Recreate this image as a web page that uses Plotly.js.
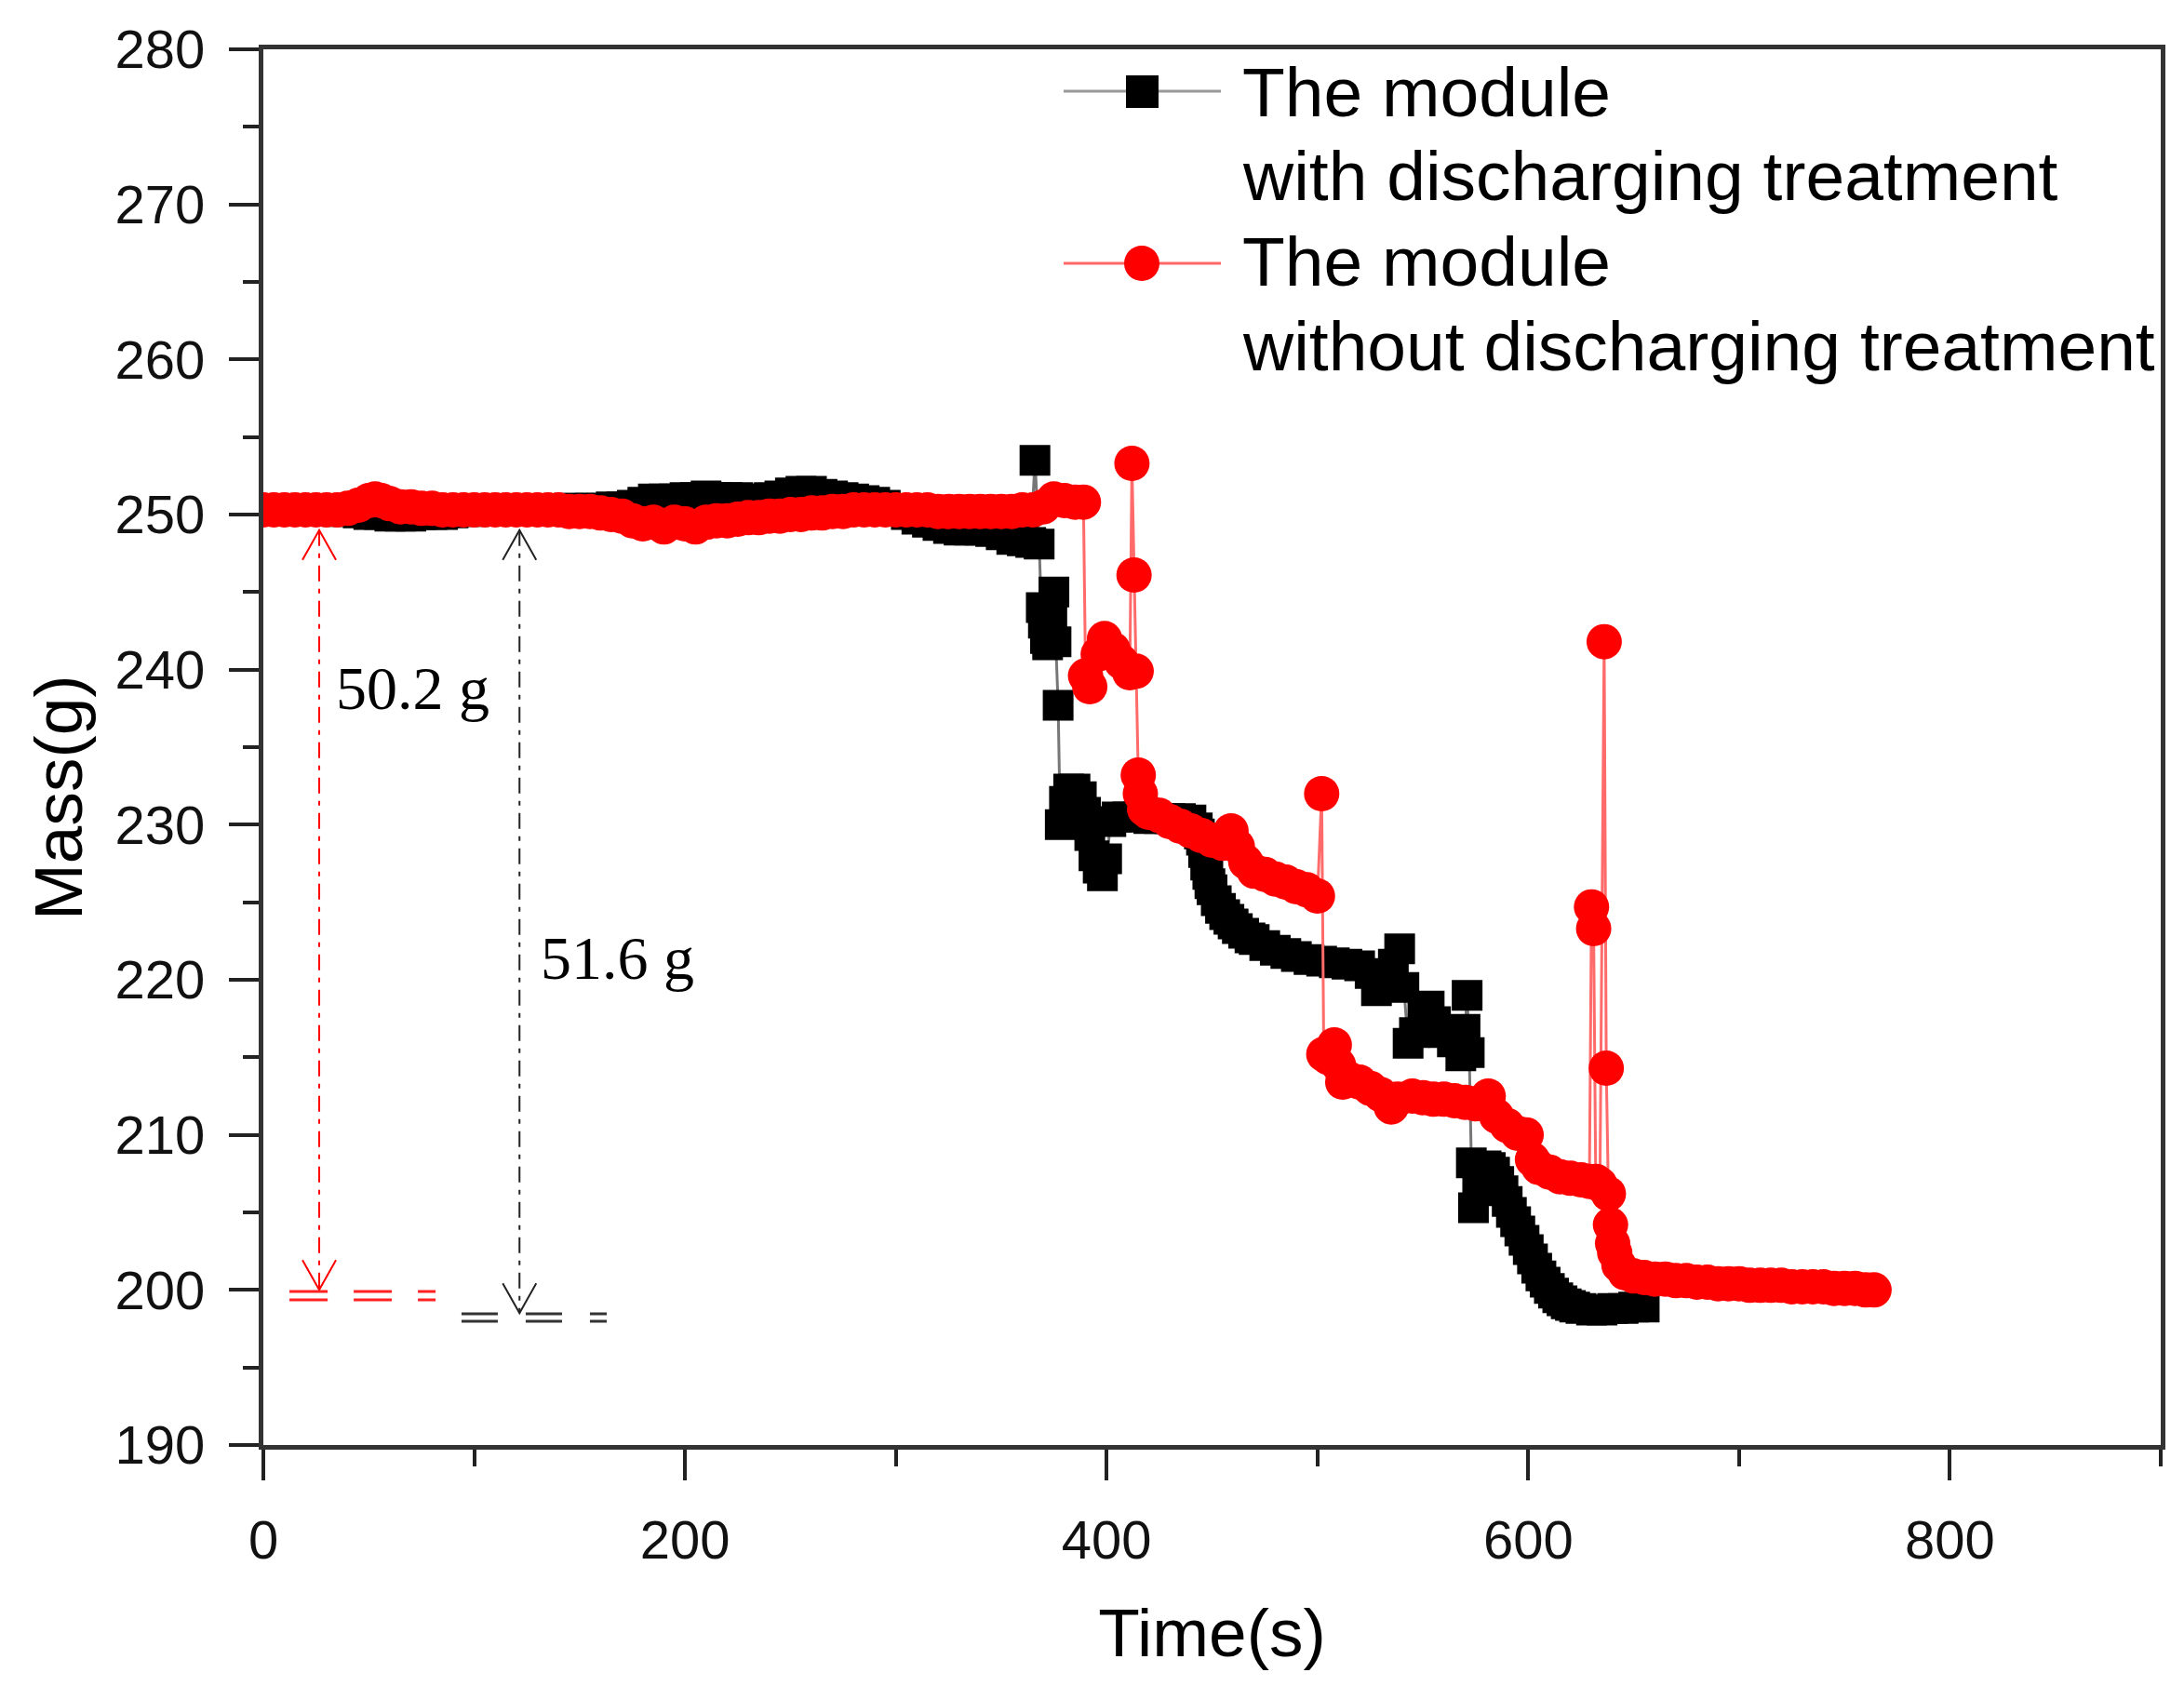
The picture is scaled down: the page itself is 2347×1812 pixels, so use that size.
<!DOCTYPE html>
<html>
<head>
<meta charset="utf-8">
<script src="https://cdn.plot.ly/plotly-3.0.1.min.js"></script>
<style>
  html, body { margin: 0; padding: 0; background: #fff; }
  #chart { width: 2347px; height: 1812px; }
</style>
</head>
<body>
<div id="chart"></div>
<script>
// mass loss of the module, with discharging treatment (black squares)
var timeWith = [0, 5, 10, 15, 20, 25, 30, 35, 40, 45, 50, 55, 60, 65, 70, 75, 80, 85, 90, 95,
  100, 105, 110, 115, 120, 125, 130, 135, 140, 145, 150, 155, 160, 165, 170, 175, 180, 185, 190, 195,
  200, 205, 210, 215, 220, 225, 230, 235, 240, 245, 250, 255, 260, 265, 270, 275, 280, 285, 290, 295,
  300, 305, 310, 315, 320, 325, 330, 335, 340, 345, 350, 355, 360, 364, 366, 368, 369, 370, 371, 372,
  374, 375, 376, 377, 378, 380, 382, 385, 388, 390, 392, 394, 396, 398, 400, 402, 405, 410, 415, 420,
  425, 430, 435, 440, 443, 444, 445, 446, 447, 448, 449, 450, 452, 454, 456, 458, 460, 462, 465, 468,
  470, 475, 480, 485, 490, 496, 502, 508, 514, 520, 525, 528, 532, 536, 539, 541, 543, 546, 550, 553,
  556, 560, 564, 568, 570, 571, 572, 573, 574, 576, 578, 580, 582, 584, 586, 588, 590, 592, 594, 596,
  598, 600, 602, 604, 606, 608, 610, 612, 614, 616, 618, 620, 622, 625, 630, 635, 640, 645, 650, 655];
var massWith = [250.3, 250.3, 250.3, 250.3, 250.3, 250.3, 250.3, 250.2, 250.2, 250.1, 250.0, 250.0, 249.9, 249.9, 249.9, 250.0, 250.0, 250.0, 250.1, 250.2,
  250.2, 250.3, 250.3, 250.3, 250.3, 250.3, 250.3, 250.3, 250.3, 250.4, 250.4, 250.4, 250.4, 250.5, 250.5, 250.6, 250.8, 251.0, 251.0, 251.0,
  251.1, 251.1, 251.2, 251.1, 251.1, 251.1, 251.0, 251.0, 251.1, 251.2, 251.4, 251.5, 251.5, 251.3, 251.2, 251.1, 251.0, 250.9, 250.8, 250.6,
  250.3, 250.0, 249.7, 249.5, 249.3, 249.1, 249.0, 249.0, 249.0, 248.9, 248.7, 248.4, 248.3, 248.2, 253.5, 248.1, 244.0, 243.0, 242.0, 241.6,
  243.5, 245.0, 241.8, 237.7, 230.0, 231.5, 232.3, 232.3, 231.8, 230.8, 229.3, 228.0, 227.2, 226.7, 227.8, 230.2, 230.5, 230.5, 230.5, 230.4,
  230.4, 230.4, 230.4, 230.3, 229.8, 229.4, 229.0, 228.2, 227.4, 226.8, 226.2, 225.8, 225.1, 224.6, 224.2, 223.9, 223.6, 223.3, 223.0, 222.7,
  222.6, 222.2, 221.9, 221.7, 221.5, 221.3, 221.2, 221.1, 221.0, 220.9, 220.4, 219.3, 219.6, 221.0, 222.0, 219.5, 215.9, 216.6, 217.6, 218.3,
  217.3, 216.6, 216.0, 215.1, 216.8, 219.0, 215.3, 208.2, 205.3, 207.0, 207.6, 208.0, 207.9, 207.6, 207.0, 206.4, 205.7, 205.0, 204.4, 203.8,
  203.2, 202.6, 202.0, 201.4, 200.9, 200.5, 200.1, 199.8, 199.5, 199.3, 199.1, 199.0, 198.9, 198.8, 198.7, 198.7, 198.8, 198.8, 198.9, 198.9];

// mass loss of the module, without discharging treatment (red circles)
var timeWithout = [0, 5, 10, 15, 20, 25, 30, 35, 40, 45, 50, 53, 56, 60, 65, 70, 75, 80, 85, 90,
  95, 100, 105, 110, 115, 120, 125, 130, 135, 140, 145, 150, 155, 160, 165, 170, 175, 180, 185, 190,
  195, 200, 205, 210, 215, 220, 225, 230, 235, 240, 245, 250, 255, 260, 265, 270, 275, 280, 285, 290,
  295, 300, 305, 310, 315, 320, 325, 330, 335, 340, 345, 350, 355, 360, 365, 370, 375, 380, 385, 389,
  390, 392, 396, 399, 403, 407, 411, 412, 413, 414, 415, 416, 418, 420, 425, 430, 435, 440, 445, 450,
  455, 459, 462, 466, 470, 475, 480, 485, 490, 495, 500, 502, 503, 505, 508, 510, 512, 515, 520, 525,
  530, 535, 538, 545, 550, 555, 560, 565, 570, 575, 581, 585, 590, 595, 599, 602, 605, 610, 615, 620,
  625, 629, 630, 631, 632, 634, 636, 637, 638, 639, 640, 641, 643, 646, 650, 655, 660, 665, 670, 675,
  680, 685, 690, 695, 700, 705, 710, 715, 720, 725, 730, 735, 740, 745, 750, 755, 760, 764];
var massWithout = [250.3, 250.3, 250.3, 250.3, 250.3, 250.3, 250.3, 250.3, 250.4, 250.6, 250.9, 251.0, 250.9, 250.7, 250.5, 250.5, 250.4, 250.4, 250.3, 250.3,
  250.3, 250.3, 250.3, 250.3, 250.3, 250.3, 250.3, 250.3, 250.3, 250.3, 250.2, 250.2, 250.2, 250.1, 250.0, 249.9, 249.6, 249.4, 249.5, 249.2,
  249.5, 249.4, 249.2, 249.5, 249.6, 249.6, 249.7, 249.8, 249.8, 249.9, 249.9, 250.0, 250.0, 250.1, 250.1, 250.2, 250.2, 250.3, 250.3, 250.3,
  250.3, 250.3, 250.3, 250.3, 250.3, 250.2, 250.2, 250.2, 250.2, 250.2, 250.2, 250.2, 250.2, 250.3, 250.3, 250.5, 251.0, 250.9, 250.8, 250.8,
  239.6, 238.9, 241.0, 242.0, 241.3, 240.5, 239.8, 253.3, 246.1, 239.9, 233.2, 232.0, 231.0, 230.8, 230.6, 230.2, 229.9, 229.6, 229.3, 229.0,
  228.8, 229.6, 228.6, 227.6, 227.0, 226.8, 226.5, 226.3, 226.0, 225.8, 225.4, 232.0, 215.2, 215.0, 215.8, 214.5, 213.4, 213.6, 213.4, 213.0,
  212.6, 211.8, 212.3, 212.5, 212.4, 212.3, 212.3, 212.2, 212.1, 212.0, 212.5, 211.2, 210.6, 210.1, 210.0, 208.4, 207.9, 207.6, 207.3, 207.2,
  207.1, 207.0, 224.7, 223.3, 207.0, 206.8, 241.8, 214.3, 206.2, 204.2, 203.0, 202.4, 201.6, 201.1, 200.9, 200.8, 200.7, 200.7, 200.6, 200.6,
  200.5, 200.5, 200.4, 200.4, 200.4, 200.3, 200.3, 200.3, 200.3, 200.2, 200.2, 200.2, 200.2, 200.1, 200.1, 200.1, 200.0, 200.0];

var seriesNames = ['The module<br>with discharging treatment', 'The module<br>without discharging treatment'];
var xTickVals = [0, 200, 400, 600, 800];
var yTickVals = [190, 200, 210, 220, 230, 240, 250, 260, 270, 280];

// canvas / plot box in pixels
var W = 2347, H = 1812;
var M = {l: 283, r: 25, t: 53, b: 259};
var PW = W - M.l - M.r, PH = H - M.t - M.b;
function px(X) { return (X - M.l) / PW; }
function py(Y) { return (H - M.b - Y) / PH; }

var sans = 'Liberation Sans, Arial, sans-serif';
var serif = 'Liberation Serif, Times New Roman, serif';

var trace1 = {
  x: timeWith,
  y: massWith,
  name: seriesNames[0],
  type: 'scatter',
  mode: 'lines+markers',
  line: {color: '#777777', width: 3},
  marker: {symbol: 'square', size: 33, color: '#000000', line: {width: 0}},
  hoverinfo: 'none'
};
var trace2 = {
  x: timeWithout,
  y: massWithout,
  name: seriesNames[1],
  type: 'scatter',
  mode: 'lines+markers',
  line: {color: '#ff6a6a', width: 3},
  marker: {symbol: 'circle', size: 38, color: '#ff0000', line: {width: 0}},
  hoverinfo: 'none'
};

var data = [trace1, trace2];

// annotation arrows (loss of mass)
var redArrowX = 26.5, blackArrowX = 121.5;
var arrowTop = 249.0, redArrowBottom = 200.0, blackArrowBottom = 198.5;
var dashDot = '17px,8px,5px,8px';

function arrowShapes(x, yTop, yBot, color) {
  return [
    {type: 'line', xref: 'x', yref: 'y', x0: x, x1: x, y0: yTop, y1: yBot,
     line: {color: color, width: 2, dash: dashDot}},
    {type: 'path', xref: 'x', yref: 'y', xsizemode: 'pixel', ysizemode: 'pixel',
     xanchor: x, yanchor: yTop, path: 'M-18,-32L0,0L18,-32', line: {color: color, width: 2}},
    {type: 'path', xref: 'x', yref: 'y', xsizemode: 'pixel', ysizemode: 'pixel',
     xanchor: x, yanchor: yBot, path: 'M-18,32L0,0L18,32', line: {color: color, width: 2}}
  ];
}

function dashPair(x0, x1, ya, yb, color, dash) {
  return [ya, yb].map(function (yy) {
    return {type: 'line', xref: 'x', yref: 'y', x0: x0, x1: x1, y0: yy, y1: yy,
            line: {color: color, width: 3, dash: dash}};
  });
}

var shapes = []
  .concat(arrowShapes(redArrowX, arrowTop, redArrowBottom, '#ff0000'))
  .concat(arrowShapes(blackArrowX, arrowTop, blackArrowBottom, '#222222'))
  .concat(dashPair(12.4, 81.7, 199.9, 199.36, '#ff2020', '41px,28px'))
  .concat(dashPair(94.0, 162.9, 198.46, 197.98, '#333333', '39px,30px'))
  // legend keys
  .concat([
    {type: 'line', xref: 'paper', yref: 'paper', x0: px(1143), x1: px(1312), y0: py(98), y1: py(98),
     line: {color: '#999999', width: 3}},
    {type: 'rect', xref: 'paper', yref: 'paper', x0: px(1210), x1: px(1245), y0: py(116), y1: py(81),
     fillcolor: '#000000', line: {width: 0}},
    {type: 'line', xref: 'paper', yref: 'paper', x0: px(1143), x1: px(1312), y0: py(283), y1: py(283),
     line: {color: '#ff6666', width: 3}},
    {type: 'circle', xref: 'paper', yref: 'paper', x0: px(1208), x1: px(1246), y0: py(302), y1: py(264),
     fillcolor: '#ff0000', line: {width: 0}}
  ]);

var legendLines = seriesNames.join('<br>').split('<br>');
var legendY = [99, 189, 281, 372];
var annotations = legendLines.map(function (t, i) {
  return {text: t, xref: 'paper', yref: 'paper', x: px(1333), y: py(legendY[i]),
          xanchor: 'left', yanchor: 'middle', showarrow: false,
          font: {family: sans, size: 75, color: '#000'}};
});
annotations.push(
  {text: '50.2 g', xref: 'x', yref: 'y', x: 33.5, y: 238.8, xanchor: 'left', yanchor: 'middle',
   showarrow: false, font: {family: serif, size: 66, color: '#000'}},
  {text: '51.6 g', xref: 'x', yref: 'y', x: 130.6, y: 221.4, xanchor: 'left', yanchor: 'middle',
   showarrow: false, font: {family: serif, size: 66, color: '#000'}},
  // y axis title, placed a little below the axis centre as in the source figure
  {text: 'Mass(g)', xref: 'paper', yref: 'paper', x: px(62), y: py(857), xanchor: 'center', yanchor: 'middle',
   textangle: -90, showarrow: false, font: {family: sans, size: 73, color: '#000'}}
);

var axisCommon = {
  showgrid: false,
  zeroline: false,
  showline: true,
  mirror: true,
  linewidth: 5,
  linecolor: '#333333',
  ticks: 'outside',
  tickwidth: 4,
  tickcolor: '#222222',
  tickfont: {family: sans, size: 58, color: '#111'},
  ticklabelstandoff: 14
};

var layout = {
  width: W,
  height: H,
  margin: {l: M.l, r: M.r, t: M.t, b: M.b, pad: 0},
  paper_bgcolor: '#ffffff',
  plot_bgcolor: '#ffffff',
  showlegend: false,
  font: {family: sans, color: '#000'},
  xaxis: Object.assign({}, axisCommon, {
    range: [0, 900],
    tickmode: 'array',
    tickvals: xTickVals,
    ticklen: 33,
    minor: {dtick: 100, tick0: 0, ticks: 'outside', ticklen: 18, tickwidth: 4, tickcolor: '#222222', showgrid: false},
    title: {text: 'Time(s)', font: {family: sans, size: 73, color: '#000'}, standoff: 45}
  }),
  yaxis: Object.assign({}, axisCommon, {
    range: [190, 280],
    tickmode: 'array',
    tickvals: yTickVals,
    ticklen: 32,
    minor: {dtick: 5, tick0: 190, ticks: 'outside', ticklen: 17, tickwidth: 4, tickcolor: '#222222', showgrid: false}
  }),
  shapes: shapes,
  annotations: annotations
};

var config = {responsive: false, displayModeBar: false, staticPlot: true};

Plotly.newPlot('chart', data, layout, config);
</script>
</body>
</html>
